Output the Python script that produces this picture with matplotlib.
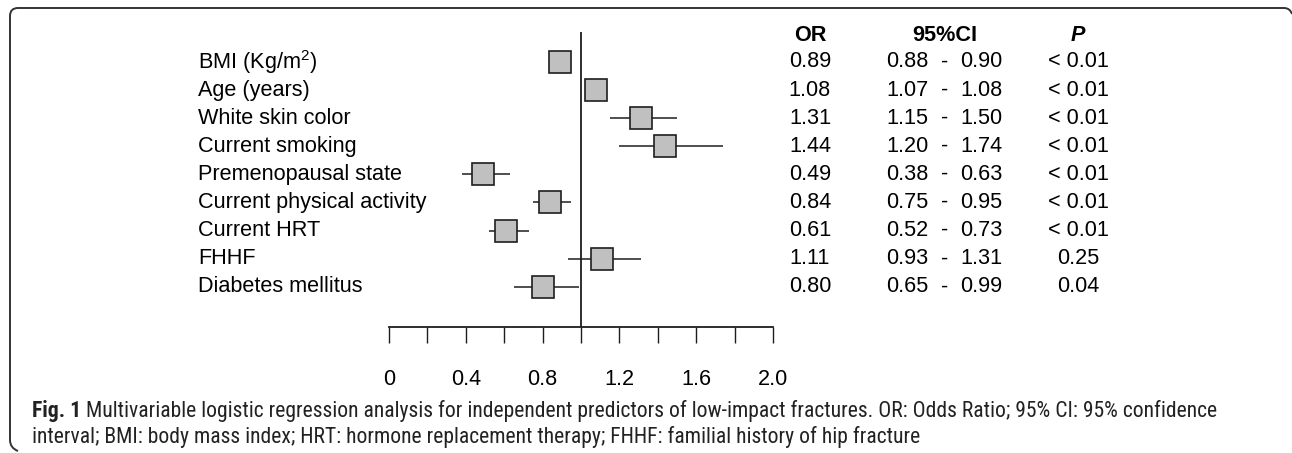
import matplotlib
matplotlib.use('Agg')
import matplotlib.pyplot as plt
import matplotlib.transforms as mtransforms
from matplotlib.path import Path
from matplotlib.patches import PathPatch

plt.rcParams['font.family'] = ['Liberation Sans', 'DejaVu Sans']
plt.rcParams['mathtext.fontset'] = 'custom'
plt.rcParams['mathtext.rm'] = 'Liberation Sans'

labels = ['BMI (Kg/m$^\\mathregular{2}$)', 'Age (years)', 'White skin color',
          'Current smoking', 'Premenopausal state', 'Current physical activity',
          'Current HRT', 'FHHF', 'Diabetes mellitus']
odds = [0.89, 1.08, 1.31, 1.44, 0.49, 0.84, 0.61, 1.11, 0.80]
ci_low = [0.88, 1.07, 1.15, 1.20, 0.38, 0.75, 0.52, 0.93, 0.65]
ci_high = [0.90, 1.08, 1.50, 1.74, 0.63, 0.95, 0.73, 1.31, 0.99]
pvals = ['< 0.01'] * 7 + ['0.25', '0.04']
xticks = [0, 0.4, 0.8, 1.2, 1.6, 2.0]
xtick_labels = ['0', '0.4', '0.8', '1.2', '1.6', '2.0']
minor_ticks = [0.2, 0.6, 1.0, 1.4, 1.8]

caption_bold = 'Fig. 1'
caption_1 = (' Multivariable logistic regression analysis for independent predictors '
             'of low-impact fractures. OR: Odds Ratio; 95% CI: 95% confidence')
caption_2 = ('interval; BMI: body mass index; HRT: hormone replacement therapy; '
             'FHHF: familial history of hip fracture')

W, H = 1292, 453
fig = plt.figure(figsize=(W / 100, H / 100), dpi=100)


def fx(px):
    return px / W


def fy(py):
    return 1 - py / H


# row r sits at pixel 62 + 28.1 r
row0, step = 62.0, 28.1
top_px, bot_px = 20, 360
ax = fig.add_axes([fx(389), fy(bot_px), fx(773) - fx(389), (bot_px - top_px) / H])
ax.set_xlim(0, 2)
ax.set_ylim((bot_px - row0) / step, (top_px - row0) / step)
ax.patch.set_visible(False)

ink = '#1e1e1e'
axis_r = (327 - row0) / step
vtop_r = (32 - row0) / step

for s in ['top', 'right', 'left']:
    ax.spines[s].set_visible(False)
ax.spines['bottom'].set_position(('data', axis_r))
ax.spines['bottom'].set_bounds(0, 2)
ax.spines['bottom'].set_linewidth(1.3)
ax.spines['bottom'].set_color(ink)
ax.set_yticks([])
ax.set_xticks(xticks)
ax.set_xticklabels(xtick_labels)
ax.set_xticks(minor_ticks, minor=True)
ax.tick_params(axis='x', which='both', direction='out', length=11.5, width=1.0,
               color=ink)
ax.tick_params(axis='x', which='major', pad=19, labelsize=15.6, labelcolor='black')

ax.vlines(1.0, vtop_r, axis_r, color=ink, lw=1.3, zorder=1)

rows = list(range(len(labels)))
ax.hlines(rows, ci_low, ci_high, color=ink, lw=1.1, zorder=2)
ax.plot(odds, rows, 's', ms=15.2, mfc='#c0c0c0', mec=ink, mew=1.2,
        linestyle='none', zorder=3)

trans = mtransforms.blended_transform_factory(fig.transFigure, ax.transData)
fs = 15.6
for r, lab in enumerate(labels):
    ax.text(fx(198), r, lab, transform=trans, ha='left', va='center', fontsize=fs)
    ax.text(fx(810), r, f'{odds[r]:.2f}', transform=trans, ha='center',
            va='center', fontsize=fs)
    ax.text(fx(907), r, f'{ci_low[r]:.2f}', transform=trans, ha='center',
            va='center', fontsize=fs)
    ax.text(fx(945), r, '-', transform=trans, ha='center', va='center', fontsize=fs)
    ax.text(fx(981), r, f'{ci_high[r]:.2f}', transform=trans, ha='center',
            va='center', fontsize=fs)
    ax.text(fx(1078), r, pvals[r], transform=trans, ha='center', va='center',
            fontsize=fs)

head_r = (36 - row0) / step
ax.text(fx(810), head_r, 'OR', transform=trans, ha='center', va='center',
        fontsize=fs, fontweight='bold')
ax.text(fx(945), head_r, '95%CI', transform=trans, ha='center', va='center',
        fontsize=fs, fontweight='bold')
ax.text(fx(1078), head_r, 'P', transform=trans, ha='center', va='center',
        fontsize=fs, fontweight='bold', fontstyle='italic')

# caption
cap_font = ['Liberation Sans Narrow', 'Roboto Condensed', 'Roboto', 'DejaVu Sans']
cap_fs = 13.5
renderer = fig.canvas.get_renderer()
tb = fig.text(fx(32), fy(411), caption_bold, ha='left', va='center',
              fontsize=cap_fs, fontweight='bold', family=cap_font, color='#222222')
bw = tb.get_window_extent(renderer).width
tr = fig.text(fx(32 + bw), fy(411), caption_1, ha='left', va='center',
              fontsize=cap_fs, family=cap_font, color='#222222')
rw = tr.get_window_extent(renderer).width
scale = (1215 - 32) / (bw + rw)
cap_fs *= scale
tb.set_fontsize(cap_fs)
tr.set_fontsize(cap_fs)
bw = tb.get_window_extent(renderer).width
tr.set_x(fx(32 + bw))
fig.text(fx(32), fy(437), caption_2, ha='left', va='center', fontsize=cap_fs,
         family=cap_font, color='#222222')

# frame: top edge with rounded corners, open on the right and bottom
rad = 8
verts = [(W, 14), (W - 2, 8), (W - 8, 8), (10 + rad, 8), (10, 8), (10, 8 + rad),
         (10, 448 - rad), (10, 448), (10 + rad, 451)]
codes = [Path.MOVETO, Path.CURVE3, Path.CURVE3, Path.LINETO, Path.CURVE3,
         Path.CURVE3, Path.LINETO, Path.CURVE3, Path.CURVE3]
frame = Path([(fx(x), fy(y)) for x, y in verts], codes)
fig.patches.append(PathPatch(frame, transform=fig.transFigure, fill=False,
                             edgecolor='#333333', lw=1.4))

fig.savefig('out.png', dpi=100)
